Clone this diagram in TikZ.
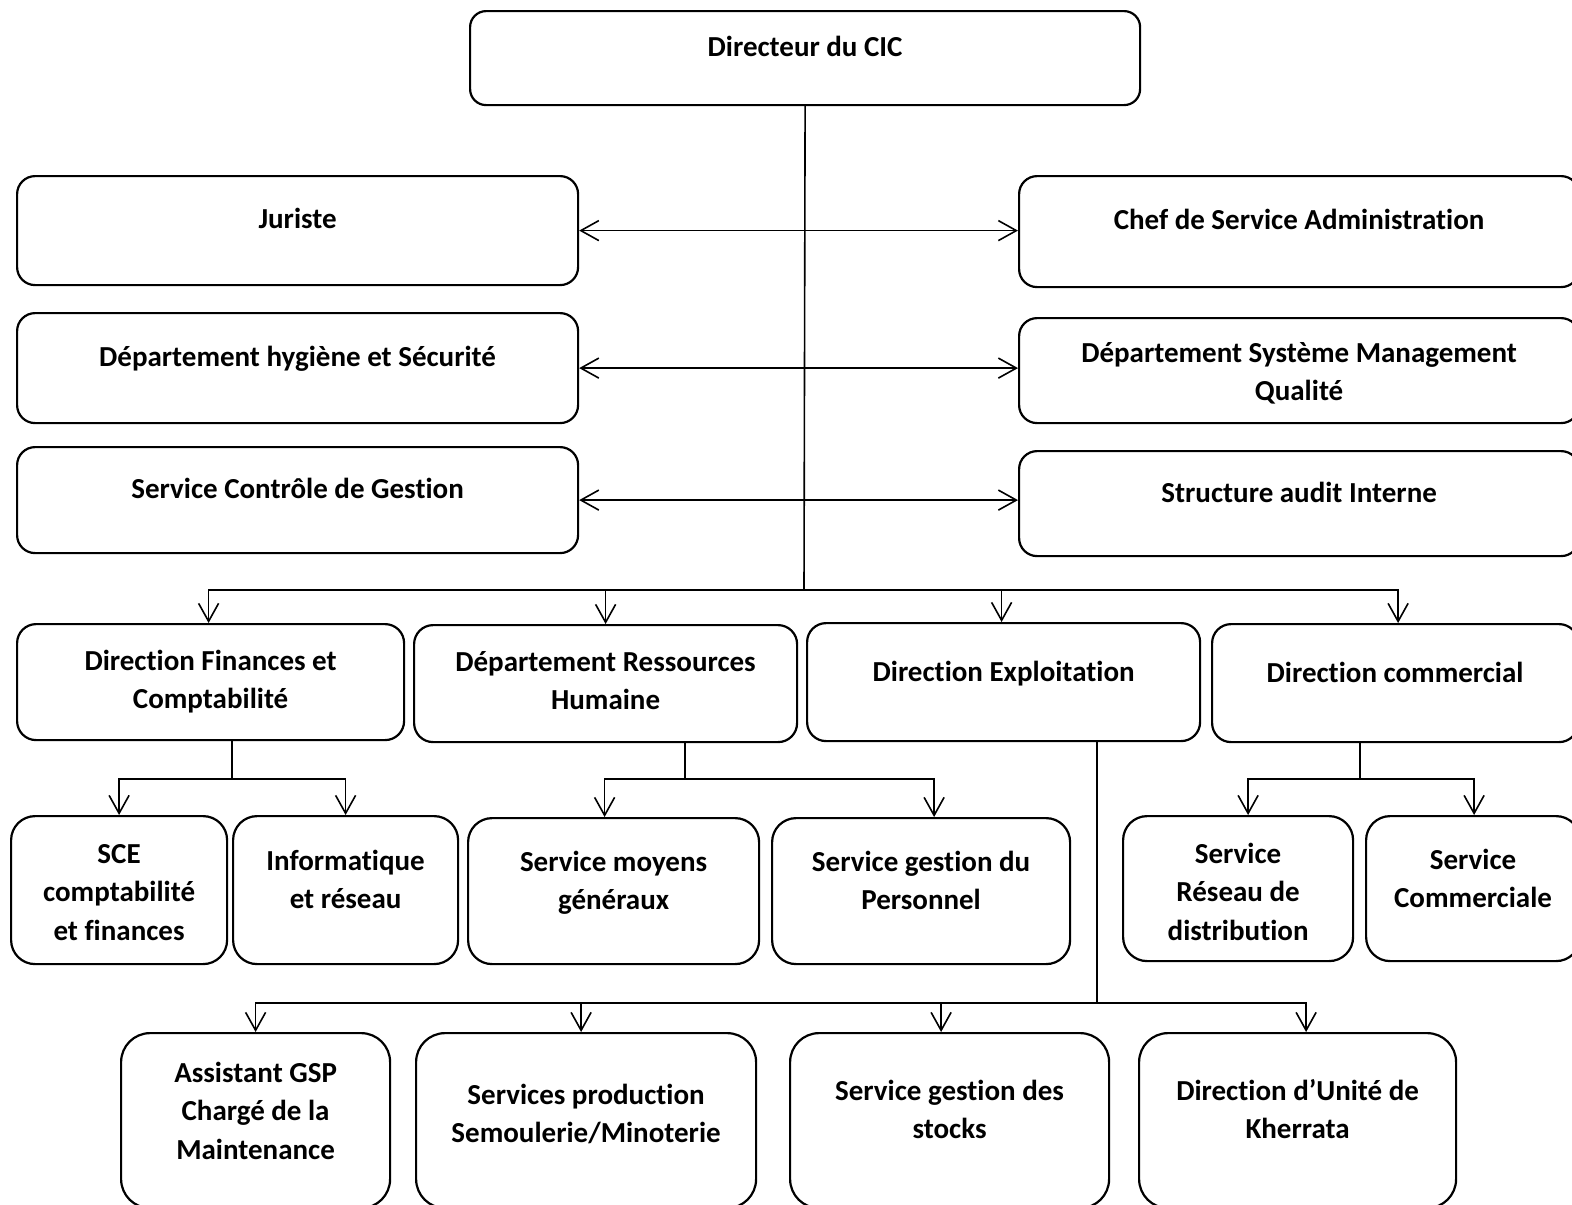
\documentclass[tikz,border=0pt]{standalone}
\usepackage{fontspec}
\setmainfont{Carlito}[Ligatures=NoCommon]
\usetikzlibrary{arrows.meta}

\tikzset{
	box/.style={draw, line width=2.2pt, anchor=north west, inner sep=0pt, align=center,
		font=\fontsize{29}{38.5}\selectfont\bfseries},
	link/.style={line width=1.6pt},
	>={Straight Barb[length=18pt,width=20pt]}
}

\begin{document}
\begin{tikzpicture}[x=1pt,y=-1pt]
	\useasboundingbox (0,0) rectangle (1572,1205);
	% top
	\node[box, rounded corners=16pt, minimum width=670pt, text height=45pt, text depth=49pt] (dir) at (469,10) {Directeur du CIC};
	
	% staff boxes
	\node[box, rounded corners=18pt, minimum width=561pt, text height=52pt, text depth=57pt] (jur) at (16,175) {Juriste};
	\node[box, rounded corners=18pt, minimum width=560pt, text height=53pt, text depth=58pt] (chef) at (1018,175) {Chef de Service Administration};
	\node[box, rounded corners=18pt, minimum width=561pt, text height=53pt, text depth=57pt] (hyg) at (16,312) {Département hygiène et Sécurité};
	\node[box, rounded corners=18pt, minimum width=560pt, text height=82.5pt, text depth=22.5pt] (smq) at (1018,317) {Département Système Management\\Qualité};
	\node[box, rounded corners=18pt, minimum width=561pt, text height=51pt, text depth=55pt] (ctrl) at (16,446) {Service Contrôle de Gestion};
	\node[box, rounded corners=18pt, minimum width=560pt, text height=51pt, text depth=54pt] (audit) at (1018,450) {Structure audit Interne};
	
	% directions
	\node[box, rounded corners=19pt, minimum width=387pt, text height=84.5pt, text depth=31.5pt] (fin) at (16,623) {Direction Finances et\\Comptabilité};
	\node[box, rounded corners=19pt, minimum width=383pt, text height=84.5pt, text depth=32.5pt] (rh) at (413,624) {Département Ressources\\Humaine};
	\node[box, rounded corners=19pt, minimum width=393pt, text height=58pt, text depth=60pt] (exp) at (806,622) {Direction Exploitation};
	\node[box, rounded corners=19pt, minimum width=366pt, text height=58pt, text depth=60pt] (com) at (1211,623) {Direction commercial};
	
	% services
	\node[box, rounded corners=24pt, minimum width=216pt, text height=124pt, text depth=24pt] (sce) at (10,815) {SCE\\comptabilité\\et finances};
	\node[box, rounded corners=24pt, minimum width=225pt, text height=92.5pt, text depth=55.5pt] (info) at (232,815) {Informatique\\et réseau};
	\node[box, rounded corners=24pt, minimum width=291pt, text height=91.5pt, text depth=54.5pt] (moy) at (467,817) {Service moyens\\généraux};
	\node[box, rounded corners=24pt, minimum width=298pt, text height=91.5pt, text depth=54.5pt] (pers) at (771,817) {Service gestion du\\Personnel};
	\node[box, rounded corners=24pt, minimum width=230pt, text height=124pt, text depth=21pt] (res) at (1122,815) {Service\\Réseau de\\distribution};
	\node[box, rounded corners=24pt, minimum width=214pt, text height=91.5pt, text depth=53.5pt] (scom) at (1365,815) {Service\\Commerciale};
	
	% exploitation
	\node[box, rounded corners=29pt, minimum width=269pt, text height=126pt, text depth=49pt] (gsp) at (120,1032) {Assistant GSP\\Chargé de la\\Maintenance};
	\node[box, rounded corners=29pt, minimum width=340pt, text height=109.5pt, text depth=65.5pt] (prod) at (415,1032) {Services production\\Semoulerie/Minoterie};
	\node[box, rounded corners=29pt, minimum width=319pt, text height=105.5pt, text depth=69.5pt] (stk) at (789,1032) {Service gestion des\\stocks};
	\node[box, rounded corners=29pt, minimum width=317pt, text height=105.5pt, text depth=69.5pt] (khe) at (1138,1032) {Direction d’Unité de\\Kherrata};
	
	% trunk and staff arrows
	\draw[link] (dir.south) -- (804,590) coordinate (bus);
	\draw[link,<->] (jur.east) -- (jur.east -| chef.west);
	\draw[link,<->] (hyg.east) -- (hyg.east -| smq.west);
	\draw[link,<->] (ctrl.east) -- (ctrl.east -| audit.west);
	
	\draw[link,->] (bus) -| ([xshift=-2pt]fin.north);
	\draw[link,->] (bus) -| (rh.north);
	\draw[link,->] (bus) -| ([xshift=-2pt]exp.north);
	\draw[link,->] (bus) -| ([xshift=3pt]com.north);
	
	% sub levels
	\draw[link] ([xshift=21.5pt]fin.south) -- ++(0,38) coordinate (finbus);
	\draw[link,->] (finbus) -| (sce.north);
	\draw[link,->] (finbus) -| (info.north);
	
	\draw[link] ([xshift=79.5pt]rh.south) -- ++(0,36) coordinate (rhbus);
	\draw[link,->] (rhbus) -| ([xshift=-9pt]moy.north);
	\draw[link,->] (rhbus) -| ([xshift=13pt]pers.north);
	
	\draw[link] ([xshift=-35pt]com.south) -- ++(0,36) coordinate (combus);
	\draw[link,->] (combus) -| ([xshift=10pt]res.north);
	\draw[link,->] (combus) -| ([xshift=1pt]scom.north);
	
	\draw[link] ([xshift=93.5pt]exp.south) -- ++(0,261) coordinate (expbus);
	\draw[link,->] (expbus) -| (gsp.north);
	\draw[link,->] (expbus) -| ([xshift=-5pt]prod.north);
	\draw[link,->] (expbus) -| ([xshift=-8.5pt]stk.north);
	\draw[link,->] (expbus) -| ([xshift=8.5pt]khe.north);
\end{tikzpicture}
\end{document}
